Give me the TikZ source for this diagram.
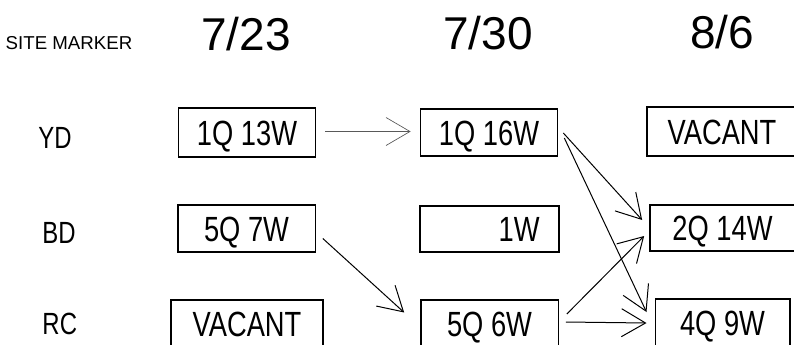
\documentclass[tikz,border=0pt]{standalone}
\usepackage{fontspec}
\setmainfont{Liberation Sans}
\newfontfamily\narrowfont{Liberation Sans}[FakeStretch=0.78]
\usetikzlibrary{arrows.meta}

\tikzset{every picture/.style={line width=0.75pt}}
\tikzset{
  cellbox/.style={draw, line width=1pt, inner sep=0pt, text height=18.8pt, text depth=0pt, minimum width=103pt, minimum height=35.25pt, font=\narrowfont\fontsize{26.25}{30}\selectfont},
  rowlabel/.style={anchor=west, inner sep=0pt, text height=16.5pt, text depth=0pt, font=\narrowfont\fontsize{23}{26}\selectfont},
  datelabel/.style={inner sep=0pt, text height=24.7pt, text depth=0pt, font=\fontsize{34.5}{40}\selectfont},
  flow/.style={-{Straight Barb[length=18pt,width=21pt]}, line width=0.75pt}
}

\begin{document}
\begin{tikzpicture}[x=0.75pt,y=0.75pt,yscale=-1,xscale=1]
%uncomment if require: \path (0,344); %set diagram left start at 0, and has height of 344
\useasboundingbox (0,0) rectangle (794,344);
\clip (0,0) rectangle (794,344);

% Text Node
\node [inner sep=0pt, text height=10pt, text depth=0pt, font=\fontsize{14}{16}\selectfont] (site) at (69,42.5) {SITE MARKER};
% Text Node
\node [datelabel] (d723) at (246,34) {7/23};
% Text Node
\node [datelabel] (d730) at (488,33) {7/30};
% Text Node
\node [datelabel] (d86) at (722,32.5) {8/6};

% Text Node
\node [rowlabel] (yd) at (38,137) {YD};
% Text Node
\node [rowlabel] (bd) at (42,232) {BD};
% Text Node
\node [rowlabel] (rc) at (42,323) {RC};

%Shape: Rectangle
\node [cellbox, minimum height=36.75pt] (yd1) at (247,132.5) {1Q 13W};
%Shape: Rectangle
\node [cellbox] (bd1) at (246.5,228.5) {5Q 7W};
%Shape: Rectangle
\node [cellbox, minimum width=114pt] (rc1) at (247,323.5) {VACANT};

%Shape: Rectangle
\node [cellbox] (yd2) at (489,132.5) {1Q 16W};
%Shape: Rectangle
\node [cellbox, minimum width=104.25pt, minimum height=34.5pt] (bd2) at (489.5,229) {\hphantom{1Q 1}1W};
%Shape: Rectangle
\node [cellbox] (rc2) at (489.5,323.5) {5Q 6W};

%Shape: Rectangle
\node [cellbox, minimum width=112.5pt, minimum height=36.75pt] (yd3) at (722,131.5) {VACANT};
%Shape: Rectangle
\node [cellbox, minimum width=109pt, minimum height=34.5pt] (bd3) at (722.5,228) {2Q 14W};
%Shape: Rectangle
\node [cellbox, minimum width=101pt] (rc3) at (722.5,322.5) {4Q 9W};

%Straight Lines
\draw [flow, line width=0.5pt, color=black!65] ([shift={(9,-1)}]yd1.east) -- ([shift={(-9,-1)}]yd2.west) ;
%Straight Lines
\draw [flow] ([shift={(7,10)}]bd1.east) -- ([shift={(-16,-11)}]rc2.west) ;
%Straight Lines
\draw [flow] ([shift={(5,0.5)}]yd2.east) -- ([shift={(-7,-8)}]bd3.west) ;
%Straight Lines
\draw [flow] ([shift={(6,5.5)}]yd2.east) -- ([shift={(-8,-10.5)}]rc3.west) ;
%Straight Lines
\draw [flow] ([shift={(8,-9.5)}]rc2.east) -- ([shift={(-5,8)}]bd3.west) ;
%Straight Lines
\draw [flow] ([shift={(7,-1.5)}]rc2.east) -- ([shift={(-8,0.5)}]rc3.west) ;

\end{tikzpicture}
\end{document}
